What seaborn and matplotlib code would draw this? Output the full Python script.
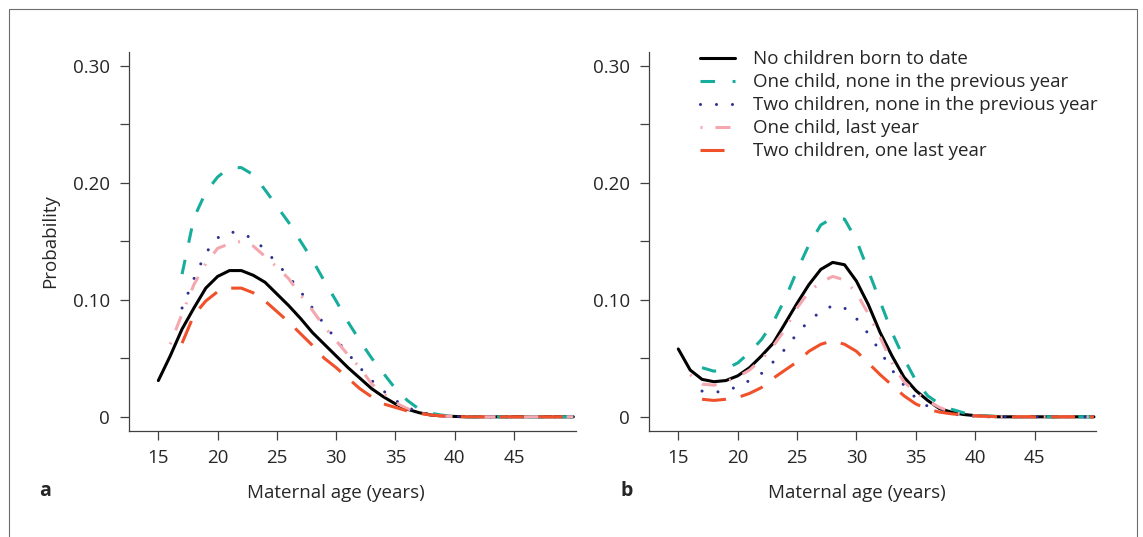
import numpy as np
import pandas as pd
import seaborn as sns
import matplotlib.pyplot as plt
from matplotlib.patches import Rectangle
from matplotlib import transforms

# ages 15..50
ages = list(range(15, 51))
nan = np.nan

series_names = [
    "No children born to date",
    "One child, none in the previous year",
    "Two children, none in the previous year",
    "One child, last year",
    "Two children, one last year",
]

# panel a
a_none = [0.031, 0.052, 0.075, 0.093, 0.110, 0.120, 0.125, 0.125, 0.121, 0.115,
          0.105, 0.095, 0.084, 0.072, 0.062, 0.052, 0.042, 0.033, 0.024, 0.017,
          0.011, 0.0065, 0.0035, 0.0015, 0.0007, 0.0003, 0, 0, 0, 0, 0, 0, 0, 0, 0, 0]
a_one_prev = [nan, nan, 0.122, 0.170, 0.192, 0.205, 0.213, 0.213, 0.207, 0.194,
              0.180, 0.166, 0.150, 0.134, 0.116, 0.099, 0.081, 0.065, 0.050, 0.037,
              0.024, 0.014, 0.0065, 0.003, 0.0013, 0.0005, 0, 0, 0, 0, 0, 0, 0, 0, 0, 0]
a_two_prev = [nan, nan, 0.093, 0.118, 0.140, 0.153, 0.158, 0.157, 0.152, 0.143,
              0.131, 0.120, 0.107, 0.093, 0.079, 0.066, 0.054, 0.042, 0.031, 0.022,
              0.014, 0.008, 0.004, 0.002, 0.001, 0.0004, 0, 0, 0, 0, 0, 0, 0, 0, 0, 0]
a_one_last = [nan, 0.062, 0.088, 0.113, 0.131, 0.144, 0.148, 0.150, 0.146, 0.137,
              0.128, 0.118, 0.104, 0.091, 0.077, 0.065, 0.053, 0.042, 0.028, 0.020,
              0.012, 0.007, 0.003, 0.0015, 0.0006, 0.0002, 0, 0, 0, 0, 0, 0, 0, 0, 0, 0]
a_two_last = [nan, nan, 0.063, 0.087, 0.099, 0.107, 0.110, 0.110, 0.106, 0.099,
              0.090, 0.081, 0.071, 0.061, 0.050, 0.042, 0.033, 0.024, 0.017, 0.011,
              0.008, 0.005, 0.003, 0.0015, 0.0007, 0.0003, 0, 0, 0, 0, 0, 0, 0, 0, 0, 0]

# panel b
b_none = [0.058, 0.040, 0.032, 0.030, 0.031, 0.035, 0.042, 0.052, 0.063, 0.080,
          0.097, 0.113, 0.126, 0.132, 0.130, 0.116, 0.096, 0.072, 0.052, 0.034,
          0.0225, 0.014, 0.007, 0.004, 0.002, 0.001, 0.0005, 0, 0, 0, 0, 0, 0, 0, 0, 0]
b_one_prev = [nan, nan, 0.042, 0.039, 0.041, 0.046, 0.055, 0.066, 0.081, 0.101,
              0.125, 0.147, 0.164, 0.170, 0.169, 0.151, 0.125, 0.0985, 0.072, 0.050,
              0.031, 0.018, 0.011, 0.0065, 0.0035, 0.0015, 0.0007, 0.0003, 0, 0, 0, 0, 0, 0, 0, 0]
b_two_prev = [nan, nan, 0.022, 0.021, 0.022, 0.026, 0.031, 0.037, 0.047, 0.058,
              0.071, 0.082, 0.090, 0.095, 0.093, 0.084, 0.071, 0.056, 0.040, 0.027,
              0.016, 0.009, 0.005, 0.0025, 0.0012, 0.0005, 0, 0, 0, 0, 0, 0, 0, 0, 0, 0]
b_one_last = [nan, 0.036, 0.028, 0.027, 0.030, 0.034, 0.040, 0.049, 0.0605, 0.075,
              0.093, 0.107, 0.115, 0.120, 0.117, 0.106, 0.088, 0.068, 0.046, 0.030,
              0.021, 0.0135, 0.008, 0.004, 0.002, 0.001, 0, 0, 0, 0, 0, 0, 0, 0, 0, 0]
b_two_last = [nan, nan, 0.015, 0.014, 0.015, 0.0165, 0.020, 0.025, 0.033, 0.040,
              0.047, 0.056, 0.062, 0.065, 0.062, 0.056, 0.046, 0.036, 0.027, 0.018,
              0.011, 0.0065, 0.004, 0.0026, 0.0015, 0.0008, 0.0004, 0.0002, 0, 0, 0, 0, 0, 0, 0, 0]

y_ticks = [0, 0.05, 0.10, 0.15, 0.20, 0.25, 0.30]
y_tick_labels = ["0", "", "0.10", "", "0.20", "", "0.30"]
x_ticks = [15, 20, 25, 30, 35, 40, 45]

colors = ["#000000", "#17ad9c", "#2e3192", "#f4a7ae", "#f0502a"]
styles = [
    "-",
    (0, (10.5, 12.6)),
    (0, (0.01, 11.5)),
    (0, (1.4, 9.4, 10.8, 9.4)),
    (0, (17.3, 10.8)),
]
caps = ["butt", "butt", "round", "butt", "butt"]

sns.set_style("ticks")
plt.rcParams["font.family"] = ["Open Sans", "DejaVu Sans"]
plt.rcParams["lines.scale_dashes"] = False
plt.rcParams["text.color"] = "#262626"
plt.rcParams["axes.labelcolor"] = "#262626"

W, H = 1143, 537
fig = plt.figure(figsize=(W / 100, H / 100), dpi=100)
ax_a = fig.add_axes([128.7 / W, 1 - 430.5 / H, 447 / W, 378.1 / H])
ax_b = fig.add_axes([648.6 / W, 1 - 430.5 / H, 447.7 / W, 378.1 / H])

panels = [
    (ax_a, [a_none, a_one_prev, a_two_prev, a_one_last, a_two_last], "a"),
    (ax_b, [b_none, b_one_prev, b_two_prev, b_one_last, b_two_last], "b"),
]

for ax, values, tag in panels:
    for name, vals, c, ls, cap in zip(series_names, values, colors, styles, caps):
        df = pd.DataFrame({"age": ages, "prob": vals}).dropna()
        sns.lineplot(data=df, x="age", y="prob", color=c, linestyle=ls, lw=2.2,
                     dash_capstyle=cap, estimator=None, label=name if tag == "b" else None,
                     legend=False, ax=ax)
    ax.set_xlim(12.5, 50.2)
    ax.set_ylim(-0.0117, 0.3115)
    ax.set_xticks(x_ticks)
    ax.set_xticklabels([str(t) for t in x_ticks])
    ax.set_yticks(y_ticks)
    ax.set_yticklabels(y_tick_labels)
    ax.tick_params(direction="out", length=6.5, width=0.9, pad=6.8,
                   labelsize=13.5, colors="#404040", labelcolor="#262626")
    sns.despine(ax=ax)
    for s in ["left", "bottom"]:
        ax.spines[s].set_color("#404040")
        ax.spines[s].set_linewidth(0.9)
    ax.set_xlabel("Maternal age (years)", fontsize=13.5)
    ax.xaxis.set_label_coords(30, -0.165,
                              transform=transforms.blended_transform_factory(ax.transData, ax.transAxes))
    ax.xaxis.label.set_va("center")
    ax.set_ylabel("")

ax_a.set_ylabel("Probability", fontsize=13.5)
ax_a.yaxis.set_label_coords(-0.176, 0.5)
ax_a.yaxis.label.set_va("center")

leg = ax_b.legend(loc="upper left", bbox_to_anchor=(700 / W, 1 - 50.5 / H),
                  bbox_transform=fig.transFigure, frameon=False, fontsize=13.5,
                  handlelength=1.87, handletextpad=0.94, labelspacing=0.265,
                  borderpad=0, borderaxespad=0)

fig.text(45 / W, 1 - 491 / H, "a", fontsize=14, fontweight="bold", ha="center", va="center")
fig.text(627 / W, 1 - 491 / H, "b", fontsize=14, fontweight="bold", ha="center", va="center")

fig.add_artist(Rectangle((9 / W, -0.05), (1137 - 9) / W, 1 - 8.6 / H + 0.05,
                         transform=fig.transFigure, fill=False, edgecolor="#6d6d6d", lw=0.8))

fig.savefig("out.png", dpi=100)
